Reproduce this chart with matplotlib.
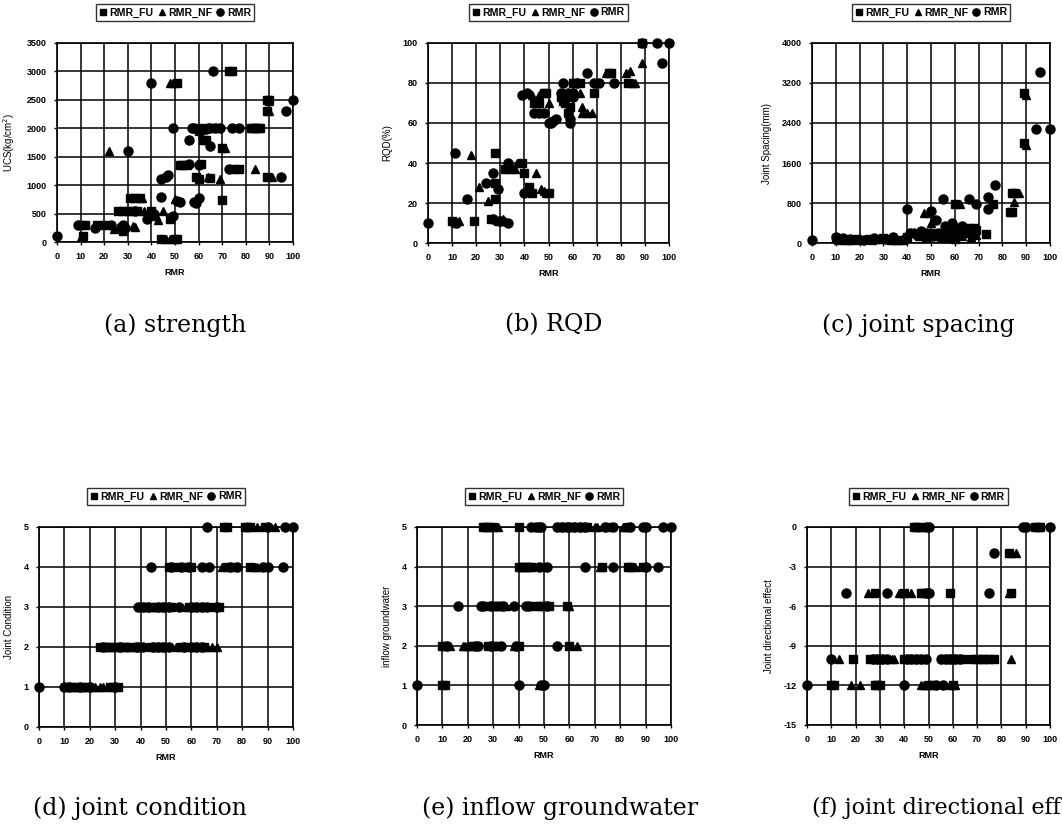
import matplotlib
matplotlib.use("Agg")
import matplotlib.pyplot as plt

# ---- data (x = RMR, y = parameter) ----
# (a) strength, UCS (kg/cm2)
A_FU = [(11, 100), (10, 300), (12, 300), (17, 300), (20, 300), (26, 550), (28, 550), (30, 550),
        (32, 550), (34, 550), (28, 200), (31, 775), (33, 775), (35, 775), (40, 550), (48, 400),
        (44, 50), (50, 50), (51, 50), (51, 2800), (52, 1350), (53, 1350), (55, 1350), (59, 1150),
        (60, 1100), (61, 1380), (61, 2000), (62, 1800), (63, 1800), (65, 1130), (68, 2000),
        (70, 730), (70, 1650), (74, 3000), (73, 3000), (75, 1280), (77, 1280), (82, 2000),
        (83, 2000), (84, 2000), (85, 2000), (86, 2000), (89, 2500), (90, 2500), (89, 2300),
        (89, 1150), (60, 1950)]
A_NF = [(10, 80), (22, 1600), (24, 220), (32, 280), (33, 270), (36, 775), (37, 550), (42, 450),
        (43, 380), (45, 550), (46, 50), (48, 50), (48, 2800), (49, 2800), (50, 750), (64, 1150),
        (69, 1100), (71, 1650), (84, 1280), (90, 2300), (91, 1150), (90, 2480)]
A_RMR = [(0, 100), (9, 300), (16, 250), (23, 300), (27, 270), (28, 300), (30, 1600), (29, 250),
         (33, 550), (38, 400), (40, 2800), (41, 500), (44, 800), (44, 1100), (46, 1150),
         (47, 1170), (49, 450), (49, 2000), (52, 700), (51, 720), (56, 1800), (56, 1380),
         (57, 2000), (58, 2000), (58, 700), (59, 690), (60, 780), (60, 1350), (62, 1980),
         (63, 1990), (64, 2000), (65, 2000), (65, 1680), (66, 3000), (67, 2000), (69, 2000),
         (73, 1280), (74, 2000), (77, 2000), (95, 1140), (97, 2300), (100, 2500), (61, 1970)]

# (b) RQD (%)
B_FU = [(10, 11), (11, 10), (19, 11), (26, 12), (28, 45), (28, 22), (28, 30), (29, 11), (30, 11),
        (32, 37), (34, 37), (39, 40), (40, 35), (42, 28), (43, 25), (44, 70), (46, 70), (48, 75),
        (49, 75), (50, 25), (55, 73), (56, 71), (57, 70), (58, 65), (60, 80), (61, 80), (63, 80),
        (69, 75), (75, 85), (76, 85), (83, 80), (89, 100), (59, 68)]
B_NF = [(13, 11), (18, 44), (21, 28), (25, 21), (31, 12), (32, 11), (36, 37), (37, 40), (43, 74),
        (45, 35), (46, 74), (47, 27), (48, 26), (49, 25), (50, 70), (61, 75), (63, 75), (64, 68),
        (64, 65), (66, 65), (68, 65), (74, 85), (82, 85), (84, 86), (85, 80), (86, 80), (89, 90)]
B_RMR = [(0, 10), (11, 45), (11.5, 10), (16, 22), (24, 30), (27, 35), (27, 12), (29, 27), (30, 11),
         (33, 40), (33, 10), (39, 74), (41, 75), (40, 25), (44, 65), (46, 65), (48, 65), (50, 60),
         (51, 60), (52, 61), (53, 62), (56, 80), (55, 75), (57, 74), (58, 75), (59, 60), (59, 62),
         (60, 75), (60, 73), (62, 80), (66, 85), (69, 80), (71, 80), (77, 80), (89, 100),
         (95, 100), (97, 90), (100, 100)]

# (c) joint spacing (mm)
C_FU = [(10, 100), (12, 80), (14, 60), (17, 70), (19, 90), (24, 80), (27, 90), (30, 100), (33, 70),
        (36, 60), (40, 120), (42, 200), (45, 150), (48, 100), (50, 200), (52, 150), (55, 200),
        (57, 100), (58, 330), (59, 180), (60, 90), (60, 770), (61, 250), (62, 300), (64, 200),
        (66, 300), (68, 300), (69, 270), (73, 180), (76, 770), (83, 610), (84, 610), (84, 1000),
        (85, 1000), (89, 2990), (89, 2000)]
C_NF = [(11, 60), (15, 70), (20, 60), (25, 60), (29, 80), (35, 70), (38, 60), (43, 220), (47, 600),
        (49, 600), (50, 400), (54, 120), (56, 220), (62, 770), (63, 150), (65, 250), (67, 120),
        (69, 170), (85, 810), (87, 1000), (90, 2960), (90, 1950)]
C_RMR = [(0, 65), (10, 120), (11, 90), (13, 100), (16, 80), (22, 70), (26, 100), (31, 90),
         (34, 120), (39, 80), (40, 680), (41, 200), (44, 160), (46, 250), (48, 200), (50, 630),
         (51, 150), (52, 460), (53, 200), (55, 870), (56, 350), (57, 280), (59, 400), (61, 200),
         (63, 350), (64, 280), (66, 870), (66, 200), (69, 770), (74, 920), (74, 680), (77, 1160),
         (94, 2280), (96, 3420), (100, 2270)]

# (d) joint condition
D_FU = [(11, 1), (13, 1), (14, 1), (17, 1), (19, 1), (28, 1), (29, 1), (31, 1),
        (24, 2), (26, 2), (27, 2), (28, 2), (30, 2), (31, 2), (33, 2), (34, 2), (36, 2), (44, 2),
        (46, 2), (48, 2), (50, 2), (56, 2), (58, 2), (61, 2), (63, 2), (65, 2),
        (40, 3), (42, 3), (44, 3), (46, 3), (48, 3), (50, 3), (52, 3), (59, 3), (61, 3), (63, 3),
        (65, 3), (69, 3), (71, 3),
        (51, 4), (53, 4), (57, 4), (60, 4), (74, 4), (77, 4), (83, 4),
        (73, 5), (74, 5), (81, 5), (82, 5), (83, 5), (89, 5)]
D_NF = [(15, 1), (18, 1), (21, 1), (22, 1), (24, 1), (25, 1), (36, 2), (54, 2), (66, 2), (68, 2),
        (70, 2), (45, 3), (58, 3), (85, 4), (86, 4), (72, 4), (86, 5), (93, 5)]
D_RMR = [(0, 1), (10, 1), (12, 1), (16, 1), (20, 1), (30, 1),
         (25, 2), (32, 2), (38, 2), (39, 2), (41, 2), (45, 2), (47, 2), (49, 2), (51, 2), (57, 2),
         (60, 2), (62, 2), (64, 2),
         (39, 3), (41, 3), (43, 3), (47, 3), (49, 3), (51, 3), (55, 3), (60, 3), (62, 3), (64, 3),
         (66, 3), (70, 3),
         (44, 4), (52, 4), (56, 4), (59, 4), (64, 4), (67, 4), (75, 4), (78, 4), (88, 4), (90, 4),
         (96, 4),
         (66, 5), (90, 5), (97, 5), (100, 5)]

# (e) inflow groundwater
E_FU = [(26, 5), (27, 5), (28, 5), (30, 5), (40, 5), (56, 5), (58, 5), (61, 5), (63, 5), (65, 5),
        (67, 5), (75, 5), (83, 5),
        (40, 4), (41, 4), (42, 4), (43, 4), (44, 4), (45, 4), (50, 4), (73, 4), (83, 4), (84, 4),
        (89, 4),
        (28, 3), (30, 3), (31, 3), (32, 3), (33, 3), (47, 3), (49, 3), (50, 3), (52, 3), (59, 3),
        (10, 2), (11, 2), (22, 2), (28, 2), (30, 2), (31, 2), (40, 2), (60, 2),
        (10, 1), (11, 1)]
E_NF = [(32, 5), (70, 5), (71, 5), (81, 5), (82, 5), (72, 4), (86, 4), (35, 3), (13, 2), (18, 2),
        (19, 2), (20, 2), (38, 2), (63, 2), (48, 1), (60, 3)]
E_RMR = [(45, 5), (47, 5), (48, 5), (49, 5), (55, 5), (57, 5), (59, 5), (60, 5), (62, 5), (64, 5),
         (66, 5), (74, 5), (77, 5), (84, 5), (89, 5), (90, 5), (97, 5), (100, 5),
         (48, 4), (51, 4), (66, 4), (77, 4), (90, 4), (95, 4),
         (16, 3), (25, 3), (26, 3), (29, 3), (34, 3), (38, 3), (43, 3), (44, 3), (51, 3),
         (12, 2), (23, 2), (24, 2), (29, 2), (33, 2), (39, 2), (55, 2),
         (0, 1), (40, 1), (50, 1), (49, 1)]

# (f) joint directional effect
F_FU = [(44, 0), (45, 0), (46, 0), (94, 0), (95, 0), (96, 0), (83, -2),
        (28, -5), (40, -5), (47, -5), (48, -5), (59, -5), (84, -5),
        (19, -10), (26, -10), (28, -10), (30, -10), (32, -10), (40, -10), (42, -10), (44, -10),
        (46, -10), (56, -10), (58, -10), (60, -10), (62, -10), (64, -10), (68, -10), (70, -10),
        (72, -10), (73, -10), (75, -10), (77, -10),
        (10, -12), (11, -12), (28, -12), (29, -12), (30, -12), (50, -12), (52, -12), (60, -12)]
F_NF = [(47, 0), (84, -2), (86, -2), (25, -5), (38, -5), (39, -5), (43, -5), (83, -5), (13, -10),
        (35, -10), (36, -10), (48, -10), (84, -10), (18, -12), (22, -12), (47, -12), (48, -12),
        (49, -12), (59, -12), (61, -12)]
F_RMR = [(49, 0), (50, 0), (89, 0), (90, 0), (100, 0), (77, -2), (16, -5), (33, -5), (50, -5),
         (49, -5), (75, -5), (10, -10), (27, -10), (29, -10), (31, -10), (33, -10), (41, -10),
         (43, -10), (45, -10), (47, -10), (49, -10), (55, -10), (57, -10), (59, -10), (61, -10),
         (63, -10), (0, -12), (40, -12), (56, -12), (53, -12)]

SERIES = ["RMR_FU", "RMR_NF", "RMR"]
X_TICKS = list(range(0, 101, 10))

W, H = 1062, 830
TICK_FONT = dict(family="Liberation Sans", size=6.5, weight="bold")


def px_axes(fig, x0, x1, y0, y1):
    """axes from pixel box (top-left origin)"""
    return fig.add_axes([x0 / W, 1 - y1 / H, (x1 - x0) / W, (y1 - y0) / H])


def panel(ax, fu, nf, rmr, ylim, yticks, ylabel):
    for pts, mk, ms in [(fu, "s", 5.5), (nf, "^", 6.0), (rmr, "o", 6.5)]:
        xs = [p[0] for p in pts]
        ys = [p[1] for p in pts]
        ax.plot(xs, ys, ls="none", marker=mk, ms=ms, color="black", mec="black", clip_on=False)
    ax.set_xlim(0, 100)
    ax.set_ylim(*ylim)
    ax.set_xticks(X_TICKS)
    ax.set_yticks(yticks)
    ax.set_xticklabels([str(v) for v in X_TICKS], fontdict=TICK_FONT)
    ax.set_yticklabels([str(v) for v in yticks], fontdict=TICK_FONT)
    ax.grid(True, color="black", lw=1.1)
    ax.set_axisbelow(True)
    for s in ax.spines.values():
        s.set_linewidth(1.2)
    ax.tick_params(length=2.5, width=1, pad=5)
    ax.set_xlabel("RMR", fontdict=TICK_FONT, labelpad=5)
    ax.set_ylabel(ylabel, family="Liberation Sans", size=7, labelpad=7)
    leg = ax.legend(SERIES, loc="lower center", bbox_to_anchor=(0.5, 1.085), ncol=3,
                    prop=dict(family="Liberation Sans", size=7.6, weight="bold"),
                    frameon=True, fancybox=False, edgecolor="black", borderpad=0.3,
                    handlelength=0.7, handletextpad=0.25, columnspacing=0.45, markerscale=0.8)
    leg.get_frame().set_linewidth(1.0)


def main():
    fig = plt.figure(figsize=(W / 100, H / 100), dpi=100)

    ax = px_axes(fig, 57, 293, 43, 242)
    panel(ax, A_FU, A_NF, A_RMR, (0, 3500), list(range(0, 3501, 500)), "UCS(kg/cm$^2$)")
    ax = px_axes(fig, 428, 669, 43, 243)
    panel(ax, B_FU, B_NF, B_RMR, (0, 100), list(range(0, 101, 20)), "RQD(%)")
    ax = px_axes(fig, 812, 1050, 43, 243)
    panel(ax, C_FU, C_NF, C_RMR, (0, 4000), list(range(0, 4001, 800)), "Joint Spacing(mm)")
    ax = px_axes(fig, 39, 293, 527, 727)
    panel(ax, D_FU, D_NF, D_RMR, (0, 5), list(range(0, 6)), "Joint Condition")
    ax = px_axes(fig, 417, 671, 527, 725)
    panel(ax, E_FU, E_NF, E_RMR, (0, 5), list(range(0, 6)), "inflow groundwater")
    ax = px_axes(fig, 807, 1050, 527, 725)
    panel(ax, F_FU, F_NF, F_RMR, (-15, 0), list(range(-15, 1, 3)), "Joint directional effect")

    # captions (the last one runs off the right edge, as in the scan)
    captions = [("(a) strength", 175, 325, 17), ("(b) RQD", 554, 325, 17),
                ("(c) joint spacing", 918, 325, 17), ("(d) joint condition", 140, 808, 17),
                ("(e) inflow groundwater", 560, 808, 17),
                ("(f) joint directional effect", 812, 808, 16)]
    for i, (txt, x, y, fs) in enumerate(captions):
        ha = "left" if i == 5 else "center"
        fig.text(x / W, 1 - y / H, txt, ha=ha, va="center", family="DejaVu Serif", size=fs)

    fig.savefig("out.png", dpi=100, facecolor="white")


if __name__ == "__main__":
    main()
